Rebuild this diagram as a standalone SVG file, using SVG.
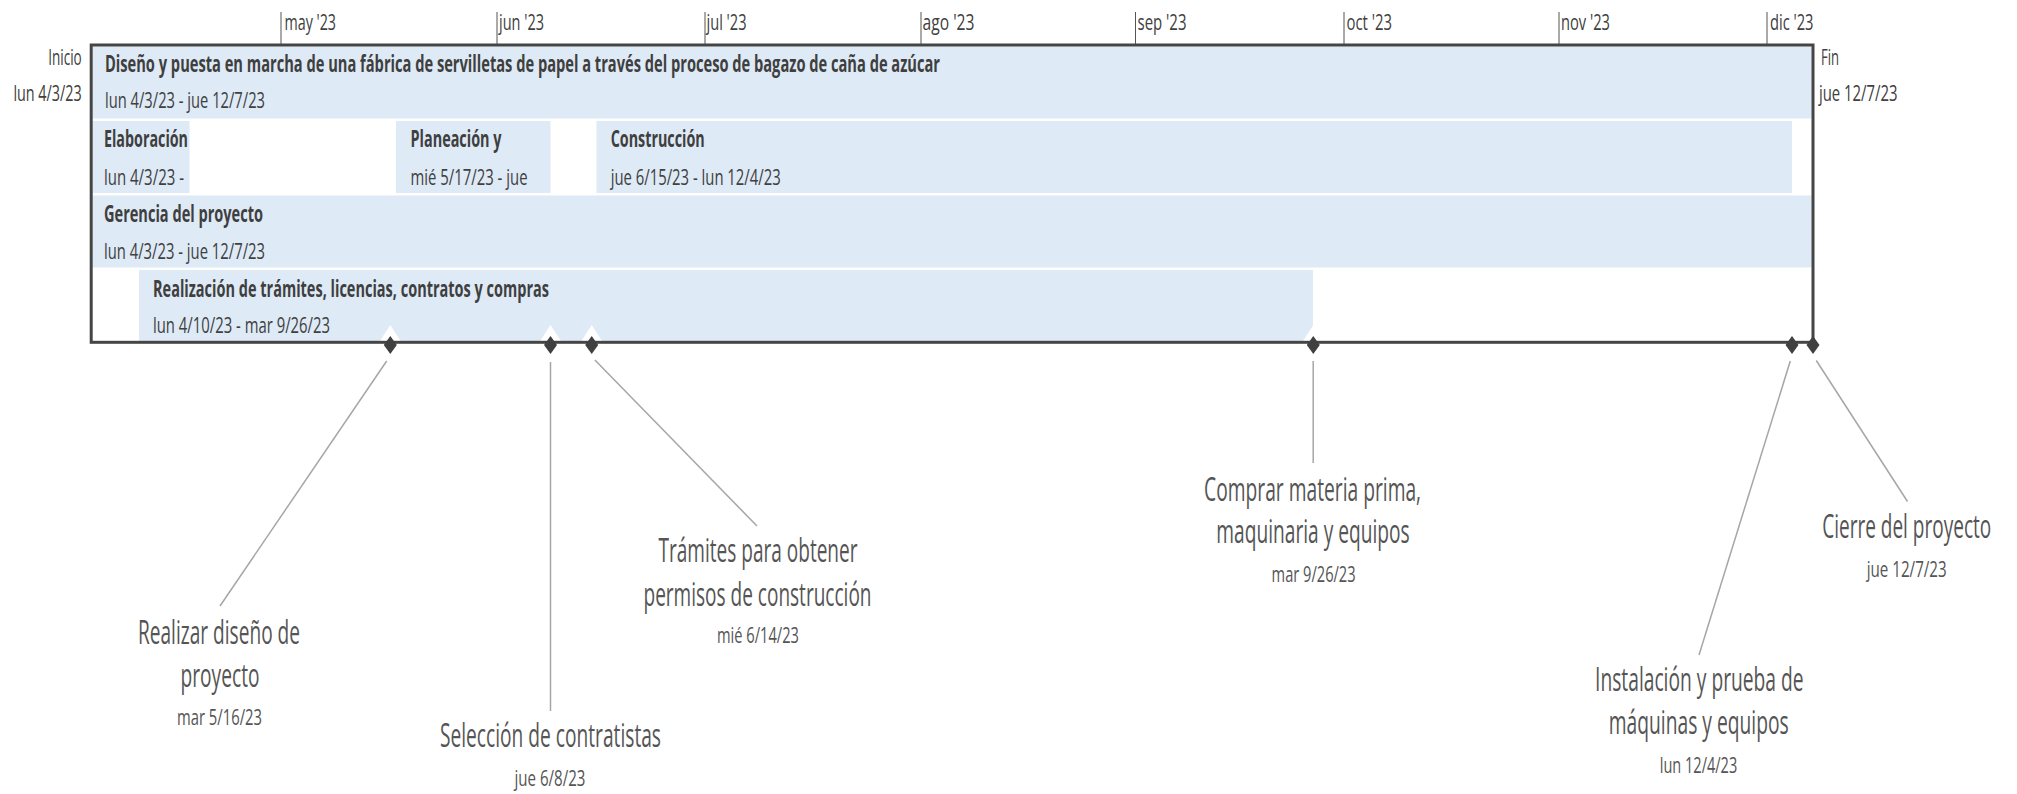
<svg xmlns="http://www.w3.org/2000/svg" width="2017" height="794" viewBox="0 0 2017 794">
<style>
text{font-family:"Open Sans","Noto Sans","DejaVu Sans",sans-serif;}
.bar{fill:#DEEAF6;}
.tb{font-size:22.5px;font-weight:700;fill:#3f3f3f;}
.td{font-size:22.5px;font-weight:400;fill:#404040;}
.ax{font-size:22px;font-weight:400;fill:#404040;}
.cl{font-size:32px;font-weight:400;fill:#555;text-anchor:middle;}
.cd{font-size:22px;font-weight:400;fill:#555;text-anchor:middle;}
.tick{stroke:#555;stroke-width:1;}
.conn{stroke:#a6a6a6;stroke-width:1.5;fill:none;}
.halo{fill:#fff;}
.ms{fill:#404040;}
</style>
<defs>
<polygon id="halo" points="0,325 13,345 0,365 -13,345"/>
<polygon id="dia" points="0,336 6.5,345 0,354 -6.5,345"/>
</defs>
<rect width="2017" height="794" fill="#fff"/>

<g id="axis">
<line class="tick" x1="281" y1="12" x2="281" y2="44"/>
<line class="tick" x1="497" y1="12" x2="497" y2="44"/>
<line class="tick" x1="705" y1="12" x2="705" y2="44"/>
<line class="tick" x1="921" y1="12" x2="921" y2="44"/>
<line class="tick" x1="1135.5" y1="12" x2="1135.5" y2="44"/>
<line class="tick" x1="1344" y1="12" x2="1344" y2="44"/>
<line class="tick" x1="1559" y1="12" x2="1559" y2="44"/>
<line class="tick" x1="1767" y1="12" x2="1767" y2="44"/>
<text class="ax" x="284.5" y="30" textLength="51.5" lengthAdjust="spacingAndGlyphs">may '23</text>
<text class="ax" x="499" y="30" textLength="45" lengthAdjust="spacingAndGlyphs">jun '23</text>
<text class="ax" x="706.5" y="30" textLength="40" lengthAdjust="spacingAndGlyphs">jul '23</text>
<text class="ax" x="922.5" y="30" textLength="52" lengthAdjust="spacingAndGlyphs">ago '23</text>
<text class="ax" x="1137.5" y="30" textLength="49" lengthAdjust="spacingAndGlyphs">sep '23</text>
<text class="ax" x="1346.5" y="30" textLength="45.5" lengthAdjust="spacingAndGlyphs">oct '23</text>
<text class="ax" x="1561" y="30" textLength="49" lengthAdjust="spacingAndGlyphs">nov '23</text>
<text class="ax" x="1770" y="30" textLength="43.5" lengthAdjust="spacingAndGlyphs">dic '23</text>
</g>

<g id="inicio">
<text class="ax" x="81.7" y="65" text-anchor="end" textLength="33.5" lengthAdjust="spacingAndGlyphs">Inicio</text>
<text class="ax" x="81.7" y="101" text-anchor="end" textLength="68.3" lengthAdjust="spacingAndGlyphs">lun 4/3/23</text>
</g>
<g id="fin">
<text class="ax" x="1821" y="65" textLength="18" lengthAdjust="spacingAndGlyphs">Fin</text>
<text class="ax" x="1819" y="101" textLength="78.5" lengthAdjust="spacingAndGlyphs">jue 12/7/23</text>
</g>

<g id="task-proyecto">
<rect class="bar" x="92.5" y="46.5" width="1719" height="72"/>
<text class="tb" x="105" y="72" textLength="835" lengthAdjust="spacingAndGlyphs">Diseño y puesta en marcha de una fábrica de servilletas de papel a través del proceso de bagazo de caña de azúcar</text>
<text class="td" x="105" y="108.3" textLength="160" lengthAdjust="spacingAndGlyphs">lun 4/3/23 - jue 12/7/23</text>
</g>
<g id="task-elaboracion">
<rect class="bar" x="92.5" y="121" width="97" height="72"/>
<text class="tb" x="104" y="147" textLength="84" lengthAdjust="spacingAndGlyphs">Elaboración</text>
<text class="td" x="104" y="184.5" textLength="80" lengthAdjust="spacingAndGlyphs">lun 4/3/23 -</text>
</g>
<g id="task-planeacion">
<rect class="bar" x="396" y="121" width="154.5" height="72"/>
<text class="tb" x="410.5" y="147" textLength="91" lengthAdjust="spacingAndGlyphs">Planeación y</text>
<text class="td" x="410.5" y="184.5" textLength="117" lengthAdjust="spacingAndGlyphs">mié 5/17/23 - jue</text>
</g>
<g id="task-construccion">
<rect class="bar" x="596.5" y="121" width="1195.5" height="72"/>
<text class="tb" x="610.7" y="147" textLength="94" lengthAdjust="spacingAndGlyphs">Construcción</text>
<text class="td" x="610.7" y="184.5" textLength="170" lengthAdjust="spacingAndGlyphs">jue 6/15/23 - lun 12/4/23</text>
</g>
<g id="task-gerencia">
<rect class="bar" x="92.5" y="195.5" width="1719" height="72"/>
<text class="tb" x="104" y="221.5" textLength="159" lengthAdjust="spacingAndGlyphs">Gerencia del proyecto</text>
<text class="td" x="104" y="258.5" textLength="161" lengthAdjust="spacingAndGlyphs">lun 4/3/23 - jue 12/7/23</text>
</g>
<g id="task-realizacion">
<rect class="bar" x="139" y="270" width="1174" height="71"/>
<text class="tb" x="153" y="296.5" textLength="396" lengthAdjust="spacingAndGlyphs">Realización de trámites, licencias, contratos y compras</text>
<text class="td" x="153" y="333" textLength="177" lengthAdjust="spacingAndGlyphs">lun 4/10/23 - mar 9/26/23</text>
</g>

<g id="halos">
<use href="#halo" class="halo" x="390.3"/>
<use href="#halo" class="halo" x="550.5"/>
<use href="#halo" class="halo" x="591.7"/>
<use href="#halo" class="halo" x="1313.3"/>
<use href="#halo" class="halo" x="1792"/>
<use href="#halo" class="halo" x="1813"/>
</g>

<g id="frame">
<rect x="91.2" y="45" width="1721.8" height="297.3" fill="none" stroke="#454545" stroke-width="3"/>
</g>

<g id="connectors">
<line class="conn" x1="386.7" y1="361" x2="220" y2="606"/>
<line class="conn" x1="550.5" y1="362" x2="550.5" y2="711"/>
<line class="conn" x1="594.9" y1="360" x2="757" y2="526"/>
<line class="conn" x1="1313.2" y1="361" x2="1313.2" y2="463"/>
<line class="conn" x1="1790.3" y1="361" x2="1699" y2="655"/>
<line class="conn" x1="1816.3" y1="360.5" x2="1907.5" y2="501.5"/>
</g>

<g id="ms-realizar-diseno">
<use href="#dia" class="ms" x="390.3"/>
<text class="cl" x="219" y="643.5" textLength="162" lengthAdjust="spacingAndGlyphs">Realizar diseño de</text>
<text class="cl" x="220" y="686.5" textLength="79" lengthAdjust="spacingAndGlyphs">proyecto</text>
<text class="cd" x="219.5" y="724.5" textLength="85" lengthAdjust="spacingAndGlyphs">mar 5/16/23</text>
</g>
<g id="ms-seleccion">
<use href="#dia" class="ms" x="550.5"/>
<text class="cl" x="550.5" y="747" textLength="221" lengthAdjust="spacingAndGlyphs">Selección de contratistas</text>
<text class="cd" x="550" y="785.5" textLength="71" lengthAdjust="spacingAndGlyphs">jue 6/8/23</text>
</g>
<g id="ms-tramites">
<use href="#dia" class="ms" x="591.7"/>
<text class="cl" x="758" y="561.5" textLength="199" lengthAdjust="spacingAndGlyphs">Trámites para obtener</text>
<text class="cl" x="757.5" y="606" textLength="228" lengthAdjust="spacingAndGlyphs">permisos de construcción</text>
<text class="cd" x="758" y="643" textLength="82" lengthAdjust="spacingAndGlyphs">mié 6/14/23</text>
</g>
<g id="ms-comprar">
<use href="#dia" class="ms" x="1313.3"/>
<text class="cl" x="1312.6" y="500.5" textLength="217" lengthAdjust="spacingAndGlyphs">Comprar materia prima,</text>
<text class="cl" x="1313" y="543" textLength="193.5" lengthAdjust="spacingAndGlyphs">maquinaria y equipos</text>
<text class="cd" x="1313.6" y="581.5" textLength="84" lengthAdjust="spacingAndGlyphs">mar 9/26/23</text>
</g>
<g id="ms-instalacion">
<use href="#dia" class="ms" x="1792"/>
<text class="cl" x="1699.3" y="691" textLength="208.5" lengthAdjust="spacingAndGlyphs">Instalación y prueba de</text>
<text class="cl" x="1698.7" y="734" textLength="180" lengthAdjust="spacingAndGlyphs">máquinas y equipos</text>
<text class="cd" x="1698.5" y="772.5" textLength="77.5" lengthAdjust="spacingAndGlyphs">lun 12/4/23</text>
</g>
<g id="ms-cierre">
<use href="#dia" class="ms" x="1813"/>
<text class="cl" transform="translate(1906.7 537.5) scale(0.6 1)" x="0" y="0" textLength="281.7" lengthAdjust="spacingAndGlyphs">Cierre del proyecto</text>
<text class="cd" x="1906.7" y="577" textLength="80" lengthAdjust="spacingAndGlyphs">jue 12/7/23</text>
</g>
</svg>
